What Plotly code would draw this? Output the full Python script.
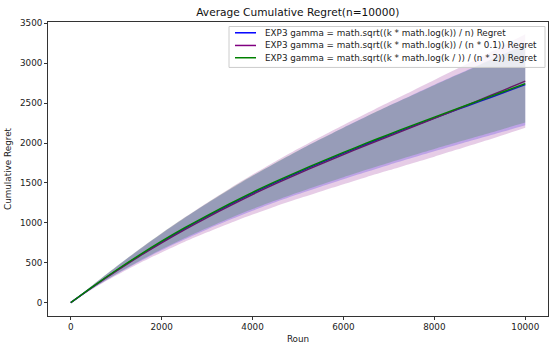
import plotly.graph_objects as go

rounds = [0, 500, 1000, 1500, 2000, 2500, 3000, 3500, 4000, 4500, 5000,
          5500, 6000, 6500, 7000, 7500, 8000, 8500, 9000, 9500, 10000]

blue_mean = [0, 205, 400, 585, 760, 925, 1080, 1228, 1370, 1503, 1630,
             1752, 1870, 1985, 2097, 2206, 2313, 2418, 2522, 2627, 2732]
blue_std = [0, 22, 48, 76, 104, 133, 162, 190, 218, 245, 272,
            298, 323, 347, 371, 394, 417, 440, 463, 486, 508]

purple_mean = [0, 203, 395, 578, 750, 913, 1067, 1214, 1355, 1488, 1615,
               1737, 1856, 1972, 2085, 2197, 2310, 2424, 2540, 2658, 2777]
purple_std = [0, 25, 55, 87, 120, 153, 186, 218, 250, 282, 313,
              343, 371, 399, 427, 453, 480, 506, 532, 559, 585]

green_mean = [0, 208, 406, 593, 770, 936, 1092, 1241, 1383, 1516, 1643,
              1765, 1883, 1998, 2110, 2219, 2326, 2431, 2535, 2640, 2745]
green_std = [0, 21, 46, 73, 100, 128, 155, 182, 209, 235, 261,
             286, 310, 333, 356, 378, 400, 422, 444, 466, 488]

x_ticks = [0, 2000, 4000, 6000, 8000, 10000]
y_ticks = [0, 500, 1000, 1500, 2000, 2500, 3000, 3500]

labels = [
    "EXP3 gamma = math.sqrt((k * math.log(k)) / n) Regret",
    "EXP3 gamma = math.sqrt((k * math.log(k)) / (n * 0.1)) Regret",
    "EXP3 gamma = math.sqrt((k * math.log(k / )) / (n * 2)) Regret",
]
colors = ["#0000ff", "#800080", "#008000"]
fills = ["rgba(0,0,255,0.2)", "rgba(128,0,128,0.2)", "rgba(0,128,0,0.2)"]

series = [(blue_mean, blue_std), (purple_mean, purple_std), (green_mean, green_std)]

FONT = "DejaVu Sans"
fig = go.Figure()
for (m, s), c, f, lab in zip(series, colors, fills, labels):
    upper = [a + b for a, b in zip(m, s)]
    lower = [a - b for a, b in zip(m, s)]
    fig.add_trace(go.Scatter(x=rounds, y=m, mode="lines",
                             line=dict(color=c, width=1.4, shape="spline", smoothing=0.8),
                             name=lab, showlegend=False, hoverinfo="skip"))
    fig.add_trace(go.Scatter(x=rounds, y=upper, mode="lines",
                             line=dict(width=0, shape="spline", smoothing=0.8),
                             showlegend=False, hoverinfo="skip"))
    fig.add_trace(go.Scatter(x=rounds, y=lower, mode="lines",
                             line=dict(width=0, shape="spline", smoothing=0.8),
                             fill="tonexty", fillcolor=f, showlegend=False, hoverinfo="skip"))

# plot area in pixels: x 48..548, y 21.5..316
def px(x):
    return (x - 48) / 500.0

def py(y):
    return (316 - y) / 294.5

shapes = [dict(type="rect", xref="paper", yref="paper",
               x0=px(229), x1=px(545), y0=py(67), y1=py(26),
               fillcolor="rgba(255,255,255,0.8)", line=dict(color="#cccccc", width=1),
               layer="above")]
annotations = []
rows = [32.3, 45, 57.3]
for r, c, lab in zip(rows, colors, labels):
    shapes.append(dict(type="line", xref="paper", yref="paper",
                       x0=px(235), x1=px(256), y0=py(r), y1=py(r),
                       line=dict(color=c, width=1.5), layer="above"))
    annotations.append(dict(xref="paper", yref="paper", x=px(263), y=py(r),
                            xanchor="left", yanchor="middle", showarrow=False,
                            text=lab, font=dict(family=FONT, size=8.8, color="#222222")))

axis_common = dict(showline=True, linecolor="#333333", linewidth=0.8, mirror=True,
                   ticks="outside", ticklen=3, tickwidth=0.8, tickcolor="#333333",
                   showgrid=False, zeroline=False,
                   tickfont=dict(family=FONT, size=8.8, color="#222222"))

fig.update_layout(
    width=554, height=351,
    margin=dict(l=48, r=6, t=21.5, b=35),
    plot_bgcolor="white", paper_bgcolor="white",
    title=dict(text="Average Cumulative Regret(n=10000)", x=0.5376, xanchor="center",
               y=1 - 12 / 351, yanchor="middle", yref="container",
               font=dict(family=FONT, size=10.6, color="#111111")),
    xaxis=dict(range=[-500, 10500], tickvals=x_ticks, ticktext=[str(v) for v in x_ticks],
               title=dict(text="Roun", standoff=4, font=dict(family=FONT, size=8.8, color="#222222")),
               **axis_common),
    yaxis=dict(range=[-167, 3517], tickvals=y_ticks, ticktext=[str(v) for v in y_ticks],
               title=dict(text="Cumulative Regret", standoff=6, font=dict(family=FONT, size=8.8, color="#222222")),
               **axis_common),
    shapes=shapes, annotations=annotations,
)

fig.write_html("out.html")
